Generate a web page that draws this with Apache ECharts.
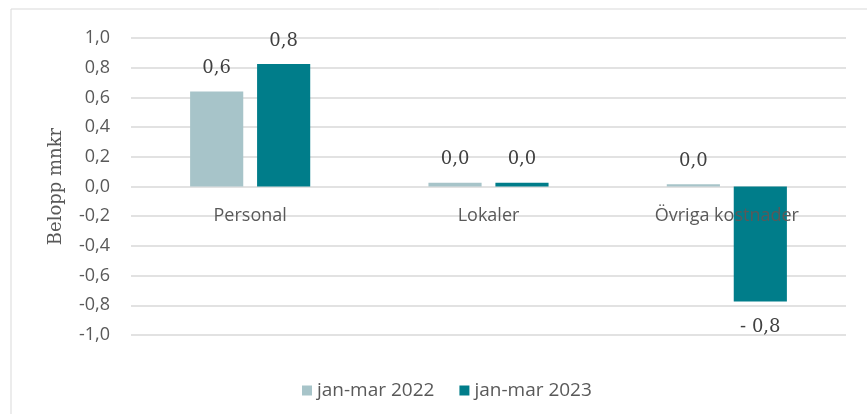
<!DOCTYPE html>
<html>
<head>
<meta charset="utf-8">
<script src="https://cdn.jsdelivr.net/npm/echarts@6/dist/echarts.min.js"></script>
<style>
html,body{margin:0;padding:0;background:#fff;}
#chart{width:867px;height:414px;}
</style>
</head>
<body>
<div id="chart"></div>
<script>
const categories = ['Personal', 'Lokaler', 'Övriga kostnader'];
const seriesNames = ['jan-mar 2022', 'jan-mar 2023'];
const values2022 = [0.64, 0.025, 0.015];
const values2023 = [0.825, 0.025, -0.775];
const yTicks = { min: -1.0, max: 1.0, step: 0.2 };

const GRID_TOP = 38, GRID_BOTTOM = 79, H = 414;
const plotH = H - GRID_TOP - GRID_BOTTOM;
const zeroOffset = plotH * (0 - yTicks.min) / (yTicks.max - yTicks.min);

const chart = echarts.init(document.getElementById('chart'), null, { renderer: 'canvas' });

function fmtLabel(p) {
  const v = p.value;
  const s = Math.abs(v).toFixed(1).replace('.', ',');
  return v < -0.05 ? '- ' + s : s;
}

const SANS = '"Open Sans", Lato, sans-serif';
const SERIF = '"DejaVu Serif", "Liberation Serif", serif';

const labelStyle = {
  show: true,
  fontFamily: SERIF,
  fontSize: 18,
  color: '#404040',
  formatter: fmtLabel
};

function mkSeries(name, data, color) {
  return {
    name: name,
    type: 'bar',
    data: data.map(v => ({
      value: v,
      label: Object.assign({}, labelStyle, v < 0 ? { position: 'bottom', distance: 17 } : { position: 'top', distance: 14 })
    })),
    itemStyle: { color: color },
    barWidth: '22.3%',
    barGap: '26%'
  };
}

chart.setOption({
  backgroundColor: '#fff',
  animation: false,
  graphic: [{
    type: 'rect',
    shape: { x: 11, y: 9, width: 880, height: 430 },
    style: { fill: 'none', stroke: '#d9d9d9', lineWidth: 1 },
    z: -1
  }],
  grid: { left: 131, right: 21, top: GRID_TOP, bottom: GRID_BOTTOM, containLabel: false },
  legend: {
    data: seriesNames,
    top: 376,
    left: 297,
    icon: 'rect',
    itemWidth: 10,
    itemHeight: 10,
    itemGap: 25,
    textStyle: { fontFamily: SANS, fontSize: 19, color: '#595959' }
  },
  xAxis: {
    type: 'category',
    data: categories,
    position: 'bottom',
    offset: -zeroOffset,
    z: 10,
    axisLine: { show: false, onZero: false },
    axisTick: { show: false },
    axisLabel: {
      margin: 20,
      fontFamily: SANS,
      fontSize: 18,
      color: '#595959'
    }
  },
  yAxis: {
    type: 'value',
    min: yTicks.min,
    max: yTicks.max,
    interval: yTicks.step,
    name: 'Belopp mnkr',
    nameLocation: 'middle',
    nameGap: 66,
    nameTextStyle: { fontFamily: SERIF, fontSize: 18, color: '#595959' },
    axisLine: { show: false },
    axisTick: { show: false },
    axisLabel: {
      margin: 21,
      fontFamily: SANS,
      fontSize: 18,
      color: '#595959',
      formatter: v => v.toFixed(1).replace('.', ',')
    },
    splitLine: { lineStyle: { color: '#d9d9d9', width: 1.5 } }
  },
  series: [
    mkSeries(seriesNames[0], values2022, '#a7c4c9'),
    mkSeries(seriesNames[1], values2023, '#007d8a')
  ]
});
</script>
</body>
</html>
